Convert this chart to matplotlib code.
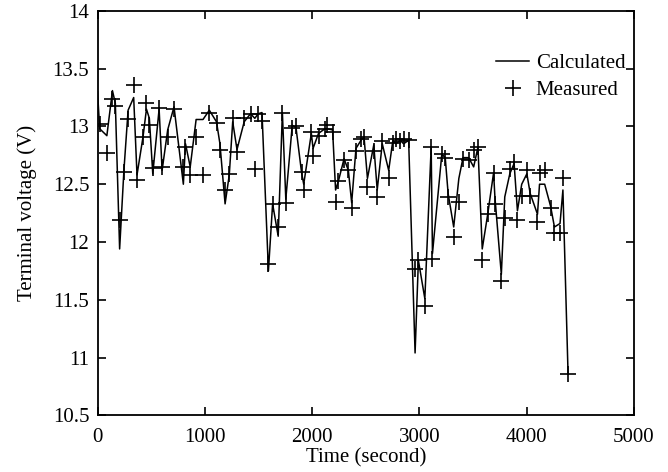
import numpy as np
import matplotlib
matplotlib.use("Agg")
import matplotlib.pyplot as plt

plt.rcParams['font.family'] = ['Liberation Serif', 'DejaVu Serif']
plt.rcParams['font.size'] = 15

# time (s) and voltage (V)
time_s = [20, 87, 139, 166, 206, 246, 285, 337, 368, 424, 456, 483, 515, 574, 602,
          654, 713, 800, 820, 864, 919, 983, 1042, 1109, 1141, 1189, 1228, 1260, 1300,
          1367, 1426, 1466, 1498, 1533, 1593, 1632, 1684, 1723, 1755, 1815, 1850, 1902,
          1922, 1993, 2009, 2060, 2120, 2139, 2191, 2219, 2246, 2298, 2338, 2369, 2409,
          2456, 2484, 2516, 2575, 2607, 2654, 2714, 2753, 2781, 2821, 2853, 2900, 2960,
          2991, 3051, 3110, 3122, 3209, 3241, 3268, 3320, 3368, 3407, 3459, 3506, 3546,
          3586, 3637, 3692, 3704, 3764, 3796, 3843, 3883, 3914, 3954, 4002, 4033, 4101,
          4120, 4168, 4223, 4259, 4311, 4338, 4386]

measured = [13.02, 12.77, 13.24, 13.18, 12.19, 12.61, 13.06, 13.36, 12.54, 12.91, 13.20,
            13.01, 12.64, 13.16, 12.65, 12.91, 13.15, 12.65, 12.82, 12.58, 12.91, 12.58,
            13.12, 13.03, 12.80, 12.45, 12.59, 13.07, 12.78, 13.07, 13.11, 12.63, 13.11,
            13.05, 11.81, 12.33, 12.13, 13.12, 12.34, 12.99, 13.00, 12.61, 12.45, 12.95,
            12.74, 12.92, 12.98, 13.01, 12.95, 12.35, 12.53, 12.71, 12.62, 12.29, 12.79,
            12.89, 12.91, 12.48, 12.79, 12.39, 12.87, 12.55, 12.86, 12.89, 12.87, 12.89,
            12.88, 11.77, 11.84, 11.45, 12.82, 11.85, 12.76, 12.73, 12.39, 12.04, 12.35,
            12.72, 12.71, 12.80, 12.82, 11.84, 12.24, 12.60, 12.33, 11.66, 12.21, 12.63,
            12.69, 12.19, 12.40, 12.62, 12.40, 12.17, 12.60, 12.62, 12.29, 12.08, 12.08,
            12.55, 10.86]

calc_time = [0] + time_s
calculated = [13.30, 12.98, 12.92, 13.31, 13.20, 11.94, 12.62, 13.14, 13.25, 12.58, 12.91,
              13.15, 13.07, 12.59, 13.15, 12.62, 12.97, 13.17, 12.50, 12.85, 12.65, 13.06,
              13.06, 13.14, 13.04, 12.85, 12.33, 12.58, 13.04, 12.80, 13.04, 13.11, 13.07,
              13.11, 13.12, 11.75, 12.33, 12.05, 13.12, 12.37, 13.01, 12.99, 12.60, 12.50,
              12.94, 12.81, 12.94, 12.98, 12.98, 12.97, 12.45, 12.53, 12.72, 12.62, 12.34,
              12.81, 12.88, 12.91, 12.55, 12.84, 12.45, 12.85, 12.62, 12.88, 12.85, 12.88,
              12.85, 12.88, 11.04, 11.84, 11.51, 12.82, 11.90, 12.76, 12.73, 12.42, 12.13,
              12.55, 12.73, 12.73, 12.65, 12.82, 11.94, 12.24, 12.60, 12.39, 11.72, 12.39,
              12.59, 12.68, 12.27, 12.50, 12.59, 12.42, 12.24, 12.50, 12.50, 12.31, 12.13,
              12.16, 12.45, 10.86]

fig = plt.figure(figsize=(6.68, 4.72), dpi=100)
ax = fig.add_axes([0.146, 0.12, 0.803, 0.857])

ax.plot(calc_time, calculated, color='black', linewidth=1.1, label='Calculated')
ax.plot(time_s, measured, linestyle='none', marker='+', color='black',
        markersize=11, markeredgewidth=1.2, label='Measured')

ax.set_xlim(0, 5000)
ax.set_ylim(10.5, 14)
ax.set_xticks(np.arange(0, 5001, 1000))
ax.set_yticks(np.arange(10.5, 14.01, 0.5))
ax.set_yticklabels(['%g' % v for v in np.arange(10.5, 14.01, 0.5)])
ax.tick_params(direction='in', top=True, right=True, length=6, width=1.2)
ax.tick_params(axis='x', pad=9)
ax.tick_params(axis='y', pad=6)
for s in ax.spines.values():
    s.set_linewidth(1.3)

ax.set_xlabel("Time (second)", labelpad=1)
ax.set_ylabel("Terminal voltage (V)", labelpad=11)

ax.legend(loc='upper right', frameon=False, handlelength=1.6, handletextpad=0.3,
          borderaxespad=0.4, labelspacing=0.35, bbox_to_anchor=(1.015, 0.935))

fig.savefig("out.png", dpi=100)
